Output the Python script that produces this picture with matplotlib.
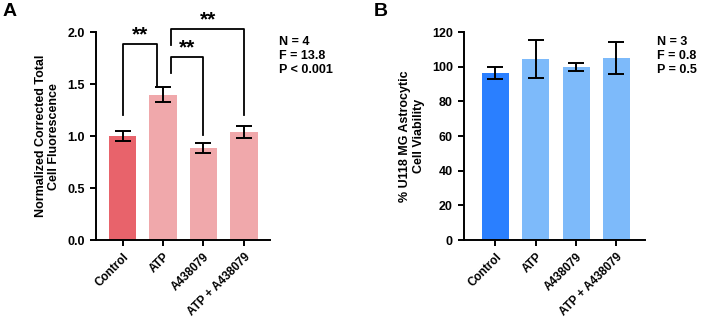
import matplotlib.pyplot as plt

plt.rcParams['font.family'] = ['Liberation Sans', 'DejaVu Sans']
plt.rcParams['font.weight'] = 'bold'
plt.rcParams['axes.labelweight'] = 'bold'

groups = ['Control', 'ATP', 'A438079', 'ATP + A438079']

# panel A
ctcf_mean = [1.00, 1.40, 0.89, 1.04]
ctcf_err = [0.05, 0.07, 0.048, 0.06]
colors_a = ['#E8636B', '#F0A8AB', '#F0A8AB', '#F0A8AB']

# panel B
viab_mean = [96.5, 104.7, 99.7, 105.2]
viab_err = [3.6, 11.0, 2.2, 9.3]
colors_b = ['#2A7FFF', '#7DBAFA', '#7DBAFA', '#7DBAFA']

# significance brackets: (left x, right x, bar height, left leg bottom, right leg bottom)
brackets = [
    (0, 0.86, 1.885, 1.20, 1.47),
    (1.2, 2.0, 1.76, 1.61, 1.01),
    (1.2, 3.0, 2.03, 1.875, 1.20),
]

fig = plt.figure(figsize=(7.01, 3.21), dpi=100)
axA = fig.add_axes([0.137, 0.252, 0.248, 0.648])
axB = fig.add_axes([0.662, 0.252, 0.258, 0.648])

x = range(len(groups))


def style(ax):
    for s in ['top', 'right']:
        ax.spines[s].set_visible(False)
    for s in ['left', 'bottom']:
        ax.spines[s].set_linewidth(1.4)
    ax.tick_params(width=1.4, length=4.5)
    ax.tick_params(axis='y', labelsize=9)
    ax.tick_params(axis='x', labelsize=8.5)
    ax.set_xticks(list(x))
    ax.set_xticklabels(groups, rotation=45, ha='right', rotation_mode='anchor')


axA.bar(x, ctcf_mean, width=0.67, color=colors_a)
axA.errorbar(x, ctcf_mean, yerr=ctcf_err, fmt='none', ecolor='black',
             elinewidth=1.4, capsize=5.5, capthick=1.4)
axA.set_ylim(0, 2.0)
axA.set_xlim(-0.654, 3.64)
axA.set_yticks([0, 0.5, 1.0, 1.5, 2.0])
axA.set_yticklabels(['0.0', '0.5', '1.0', '1.5', '2.0'])
axA.set_ylabel('Normalized Corrected Total\nCell Fluorescence', fontsize=9, labelpad=5)
style(axA)

for x0, x1, h, l0, l1 in brackets:
    axA.plot([x0, x0, x1, x1], [l0, h, h, l1], color='black', lw=1.3, clip_on=False)
    axA.text((x0 + x1) / 2, h + 0.0, '**', ha='center', va='bottom',
             fontsize=15, fontweight='bold')

axB.bar(x, viab_mean, width=0.67, color=colors_b)
axB.errorbar(x, viab_mean, yerr=viab_err, fmt='none', ecolor='black',
             elinewidth=1.4, capsize=5.5, capthick=1.4)
axB.set_ylim(0, 120)
axB.set_xlim(-0.78, 3.71)
axB.set_yticks(range(0, 121, 20))
axB.set_ylabel('% U118 MG Astrocytic\nCell Viability', fontsize=9, labelpad=5)
style(axB)

fig.text(279 / 701, 1 - 36 / 321, 'N = 4\nF = 13.8\nP < 0.001', fontsize=9,
         va='top', ha='left', linespacing=1.2)
fig.text(657 / 701, 1 - 36 / 321, 'N = 3\nF = 0.8\nP = 0.5', fontsize=9,
         va='top', ha='left', linespacing=1.2)

fig.text(0.003, 0.99, 'A', fontsize=14, fontweight='bold', va='top')
fig.text(374 / 701, 0.99, 'B', fontsize=14, fontweight='bold', va='top')

fig.savefig('out.png', dpi=100)
